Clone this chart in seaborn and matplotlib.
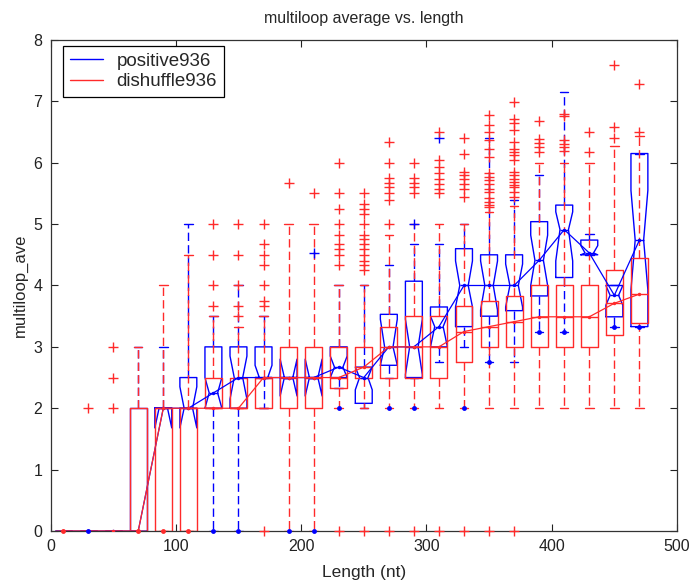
import matplotlib
matplotlib.use("Agg")
import matplotlib.pyplot as plt
import seaborn as sns
import pandas as pd
from matplotlib.lines import Line2D

# ---------------- data ----------------
positions = [10, 30, 50, 70, 90, 110, 130, 150, 170, 190, 210, 230,
             250, 270, 290, 310, 330, 350, 370, 390, 410, 430, 450, 470]

# dishuffle936 (red)
red_q1 = [0, 0, 0, 0, 0, 0, 2, 2, 2, 2, 2, 2.33,
          2.5, 2.5, 2.5, 2.5, 2.75, 3.0, 3.0, 3.0, 3.0, 3.0, 3.19, 3.39]
red_med = [0, 0, 0, 0, 2, 2, 2, 2, 2.5, 2.5, 2.5, 2.5,
           2.67, 3.0, 3.0, 3.0, 3.25, 3.33, 3.41, 3.49, 3.49, 3.49, 3.71, 3.86]
red_q3 = [0, 0, 0, 2, 2, 2, 2.5, 2.5, 2.5, 3, 3, 3,
          3, 3.33, 3.5, 3.5, 3.67, 3.75, 3.83, 4.0, 4.0, 4.0, 4.25, 4.44]
red_lo = [0, 0, 0, 0, 0, 0, 2, 2, 2, 0, 0, 2,
          2, 2, 2, 2, 2, 2, 2, 2, 2, 2, 2, 2]
red_hi = [0, 0, 0, 3, 4, 4.5, 3.5, 3.33, 3.5, 5, 5, 4,
          4, 4.83, 5, 5, 5, 5.2, 5.3, 6, 6, 6, 6.27, 6.43]
red_out = [[], [2], [2, 2.5, 3], [], [], [],
           [3.67, 4, 4.5, 5],
           [3.5, 3.67, 4, 4.5, 5],
           [0, 3.67, 3.75, 4, 4.33, 4.5, 4.67, 5],
           [5.67],
           [5.5],
           [0, 4.33, 4.5, 4.6, 4.67, 4.83, 5, 5.25, 5.5, 6],
           [0, 4.25, 4.33, 4.4, 4.5, 4.6, 4.67, 4.75, 4.83, 5, 5.17, 5.25, 5.33, 5.5],
           [0, 5, 5.4, 5.5, 5.6, 5.67, 5.75, 6, 6.33],
           [0, 5.5, 5.6, 5.67, 5.75, 6],
           [0, 5.5, 5.58, 5.66, 5.74, 5.83, 5.93, 6.04, 6.5],
           [0, 5.44, 5.58, 5.66, 5.74, 5.8, 5.85, 6.15, 6.4],
           [0, 5.28, 5.31, 5.36, 5.42, 5.53, 5.58, 5.66, 5.72, 5.77, 5.83,
            6.1, 6.23, 6.37, 6.5, 6.61, 6.78],
           [0, 5.44, 5.53, 5.61, 5.64, 5.69, 5.74, 5.8, 5.85, 6.04, 6.12,
            6.18, 6.23, 6.34, 6.53, 6.64, 6.72, 6.99],
           [6.18, 6.25, 6.32, 6.38, 6.68],
           [6.19, 6.25, 6.31, 6.37, 6.76, 6.8],
           [6.17, 6.5],
           [6.4, 6.58, 7.6],
           [6.5, 7.28]]
red_dot_pos = [10, 70, 90, 110]
red_dot_val = [0, 0, 0, 0]

# positive936 (blue)
blue_q1 = [0, 0, 0, 0, 2, 2, 2, 2, 2.5, 2.5, 2.5, 2.5,
           2.08, 2.7, 2.5, 3.0, 3.33, 3.5, 3.59, 3.83, 4.13, 4.5, 3.49, 3.33]
blue_med = [0, 0, 0, 0, 2, 2, 2.25, 2.5, 2.5, 2.5, 2.5, 2.67,
            2.5, 3.0, 3.0, 3.33, 4.0, 4.0, 4.0, 4.41, 4.91, 4.53, 3.84, 4.74]
blue_q3 = [0, 0, 0, 2, 2, 2.5, 3, 3, 3, 2.5, 2.5, 3.0,
           2.67, 3.53, 4.07, 3.65, 4.6, 4.5, 4.5, 5.04, 5.31, 4.74, 4.0, 6.15]
blue_cilo = [0, 0, 0, 0, 1.68, 1.68, 2.0, 2.15, 2.5, 2.2, 2.2, 2.5,
             2.3, 2.7, 2.55, 3.0, 3.65, 3.6, 3.65, 4.0, 4.4, 4.5, 3.68, 3.93]
blue_cihi = [0, 0, 0, 0, 2.0, 2.35, 2.5, 2.85, 2.7, 2.8, 2.8, 2.85,
             2.67, 3.45, 3.45, 3.5, 4.4, 4.4, 4.35, 4.82, 5.2, 4.65, 4.0, 5.55]
blue_lo = [0, 0, 0, 0, 2, 2, 0, 0, 2, 2.5, 2.5, 2.33,
           2.0, 2.5, 2.5, 2.75, 3.0, 2.75, 2.75, 3.25, 3.25, 4.5, 3.33, 3.33]
blue_hi = [0, 0, 0, 3, 3, 5, 3.5, 4, 3.5, 2.5, 2.5, 4.0,
           4.0, 4.33, 4.67, 4.67, 5.0, 6.4, 5.4, 5.8, 7.15, 4.84, 4.0, 6.15]
blue_out = [[], [], [], [], [], [], [], [], [], [], [4.53], [],
            [], [], [5.0], [6.4], [], [], [], [], [], [], [], []]
blue_dot_pos = [30, 130, 150, 190, 210, 230, 270, 290, 330, 350, 390, 410, 450, 470]
blue_dot_val = [0, 0, 0, 0, 0, 2, 2, 2, 2, 2.75, 3.25, 3.25, 3.33, 3.33]

labels = ["positive936", "dishuffle936"]
RED = "#ff2a2a"
BLUE = "#0000ff"

# ---------------- style ----------------
sns.set_style("ticks")
plt.rcParams['font.family'] = ['Liberation Sans', 'DejaVu Sans']

fig = plt.figure(figsize=(6.94, 5.83), dpi=100)
ax = fig.add_axes([0.0728, 0.0892, 0.9027, 0.8422])


def make_stats(q1, med, q3, lo, hi, out, cilo=None, cihi=None):
    res = []
    for i in range(len(q1)):
        d = dict(q1=q1[i], med=med[i], q3=q3[i], whislo=lo[i], whishi=hi[i],
                 fliers=out[i])
        if cilo is not None:
            d["cilo"] = cilo[i]
            d["cihi"] = cihi[i]
        res.append(d)
    return res


def draw(stats, color, notch):
    dash = (0, (6, 3))
    art = ax.bxp(stats, positions=positions, widths=13.5, shownotches=notch,
                 showfliers=True, manage_ticks=False,
                 boxprops=dict(color=color, lw=1.0),
                 whiskerprops=dict(color=color, lw=1.0, linestyle=dash),
                 capprops=dict(color=color, lw=1.0),
                 medianprops=dict(color=color, lw=1.0),
                 flierprops=dict(marker='+', markeredgecolor=color,
                                 markersize=7, markeredgewidth=1.0,
                                 linestyle='none'))
    for f in art["fliers"]:
        f.set_clip_on(False)
        f.set_zorder(4)
    return art


blue_stats = make_stats(blue_q1, blue_med, blue_q3, blue_lo, blue_hi, blue_out,
                        blue_cilo, blue_cihi)
red_stats = make_stats(red_q1, red_med, red_q3, red_lo, red_hi, red_out)

draw(blue_stats, BLUE, True)
draw(red_stats, RED, False)

# median connecting lines
df = pd.DataFrame({"pos": positions, "blue": blue_med, "red": red_med})
sns.lineplot(data=df, x="pos", y="blue", color=BLUE, lw=0.9, marker="o",
             markersize=2.5, markeredgewidth=0, estimator=None, ax=ax,
             legend=False, zorder=3)
sns.lineplot(data=df, x="pos", y="red", color=RED, lw=0.9, marker="o",
             markersize=2.5, markeredgewidth=0, estimator=None, ax=ax,
             legend=False, zorder=3)

# dot markers
ax.plot(blue_dot_pos, blue_dot_val, 'o', color=BLUE, ms=3.5, mew=0,
        clip_on=False, zorder=5)
ax.plot(red_dot_pos, red_dot_val, 'o', color=RED, ms=3.5, mew=0,
        clip_on=False, zorder=5)

# axes
ax.set_xlim(0, 500)
ax.set_ylim(0, 8)
ax.set_xticks([0, 100, 200, 300, 400, 500])
ax.set_yticks(range(0, 9))
ax.tick_params(direction='in', top=True, right=True, bottom=True, left=True,
               length=5, width=0.8, labelsize=11.5, colors='#222222', pad=6)
for s in ax.spines.values():
    s.set_color('#333333')
    s.set_linewidth(0.9)
    s.set_visible(True)

ax.set_title("multiloop average vs. length", fontsize=11.5, pad=12)
ax.set_xlabel("Length (nt)", fontsize=12.5, labelpad=8)
ax.set_ylabel("multiloop_ave", fontsize=12, labelpad=4)

handles = [Line2D([], [], color=BLUE, lw=1.0), Line2D([], [], color=RED, lw=1.0)]
leg = ax.legend(handles, labels, loc="upper left", bbox_to_anchor=(0.02, 0.988),
                borderaxespad=0, fontsize=13.5, handlelength=1.8,
                handletextpad=0.7, borderpad=0.35, labelspacing=0.2,
                fancybox=False, framealpha=1, edgecolor='black')
leg.get_frame().set_linewidth(0.9)

fig.savefig("out.png", dpi=100)
